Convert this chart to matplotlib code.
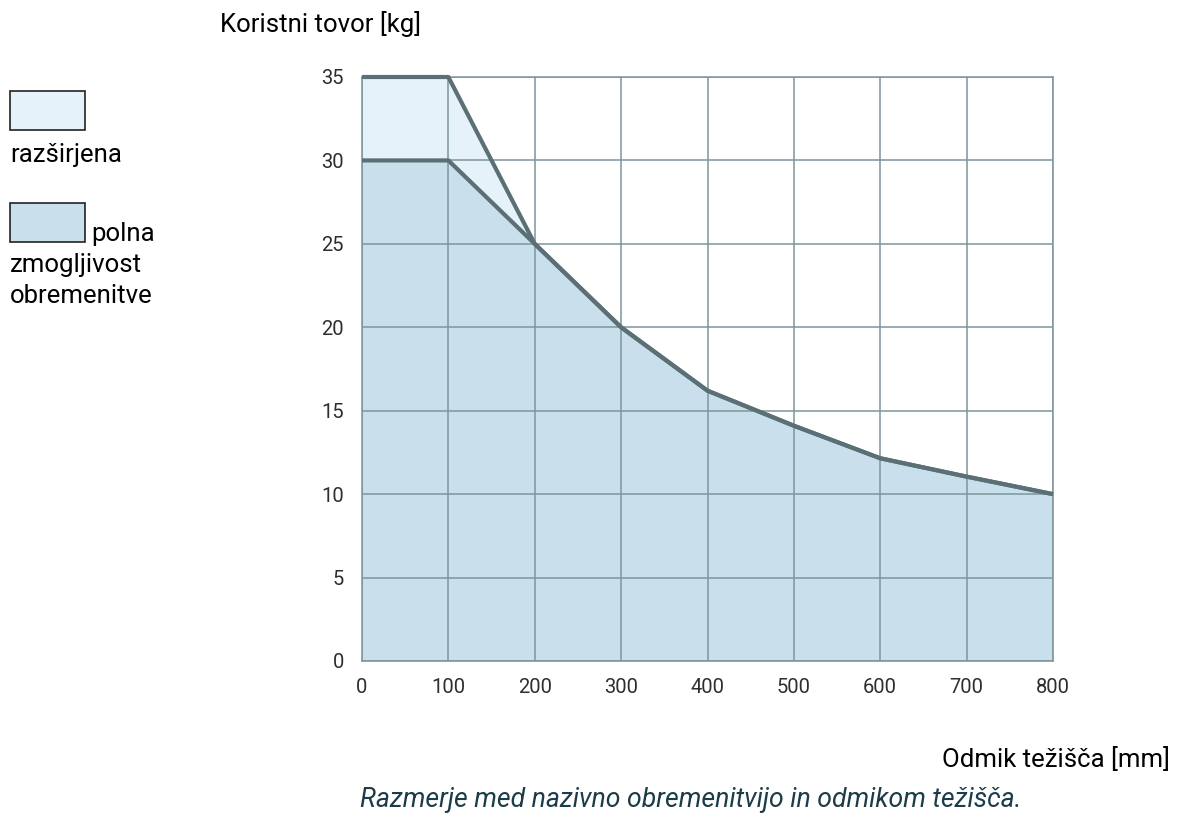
import numpy as np
import matplotlib.pyplot as plt
from matplotlib.patches import Rectangle

plt.rcParams['font.family'] = ['Roboto', 'DejaVu Sans']

# data
odmik = [0, 100, 200, 300, 400, 500, 600, 700, 800]
polna = [30, 30, 25, 20, 16.2, 14.1, 12.15, 11.05, 10]
razsirjena = [35, 35, 25, 20, 16.2, 14.1, 12.15, 11.05, 10]
xticks = [0, 100, 200, 300, 400, 500, 600, 700, 800]
yticks = [0, 5, 10, 15, 20, 25, 30, 35]

c_ext = '#e6f2f9'
c_full = '#c9e0ec'
c_line = '#5b7075'
c_grid = '#7d959b'

W, H = 1182, 819
fig = plt.figure(figsize=(W/100, H/100), dpi=100)
ax = fig.add_axes([362/W, 1-661/H, 691/W, 584/H])

ax.fill_between(odmik, 0, razsirjena, color=c_ext, lw=0, zorder=1)
ax.fill_between(odmik, 0, polna, color=c_full, lw=0, zorder=1)
ax.set_xlim(0, 800)
ax.set_ylim(0, 35)
ax.set_xticks(xticks)
ax.set_yticks(yticks)
ax.grid(True, color=c_grid, lw=1.1, zorder=2)
ax.set_axisbelow(False)
ax.plot(odmik, razsirjena, color=c_line, lw=3, zorder=3, solid_capstyle='butt', clip_on=False)
ax.plot(odmik, polna, color=c_line, lw=3, zorder=3, solid_capstyle='butt', clip_on=False)
for s in ax.spines.values():
    s.set_color(c_grid)
    s.set_linewidth(1.1)
ax.tick_params(length=0, labelsize=14.5, labelcolor='#2e2e2e')
ax.tick_params(axis='x', pad=12)
ax.tick_params(axis='y', pad=13)

fs = 18.5
def ftxt(x, y, s, **kw):
    kw.setdefault('fontsize', fs)
    fig.text(x/W, 1-y/H, s, va='baseline', **kw)

# texts
ftxt(220, 32, 'Koristni tovor [kg]', ha='left')
ftxt(1170, 767, 'Odmik težišča [mm]', ha='right')
ftxt(360, 807, 'Razmerje med nazivno obremenitvijo in odmikom težišča.',
     style='italic', color='#1b3c48', ha='left', fontsize=19.2)

# legend drawn by hand
fig.patches.append(Rectangle((10/W, 1-130/H), 75/W, 39/H, transform=fig.transFigure,
                             facecolor=c_ext, edgecolor='#222222', lw=1.2))
ftxt(10, 162, 'razširjena', ha='left')
fig.patches.append(Rectangle((10/W, 1-242/H), 75/W, 39/H, transform=fig.transFigure,
                             facecolor=c_full, edgecolor='#222222', lw=1.2))
ftxt(91, 241, 'polna', ha='left')
ftxt(10, 272, 'zmogljivost', ha='left')
ftxt(10, 303, 'obremenitve', ha='left')

fig.savefig('out.png', dpi=100)
